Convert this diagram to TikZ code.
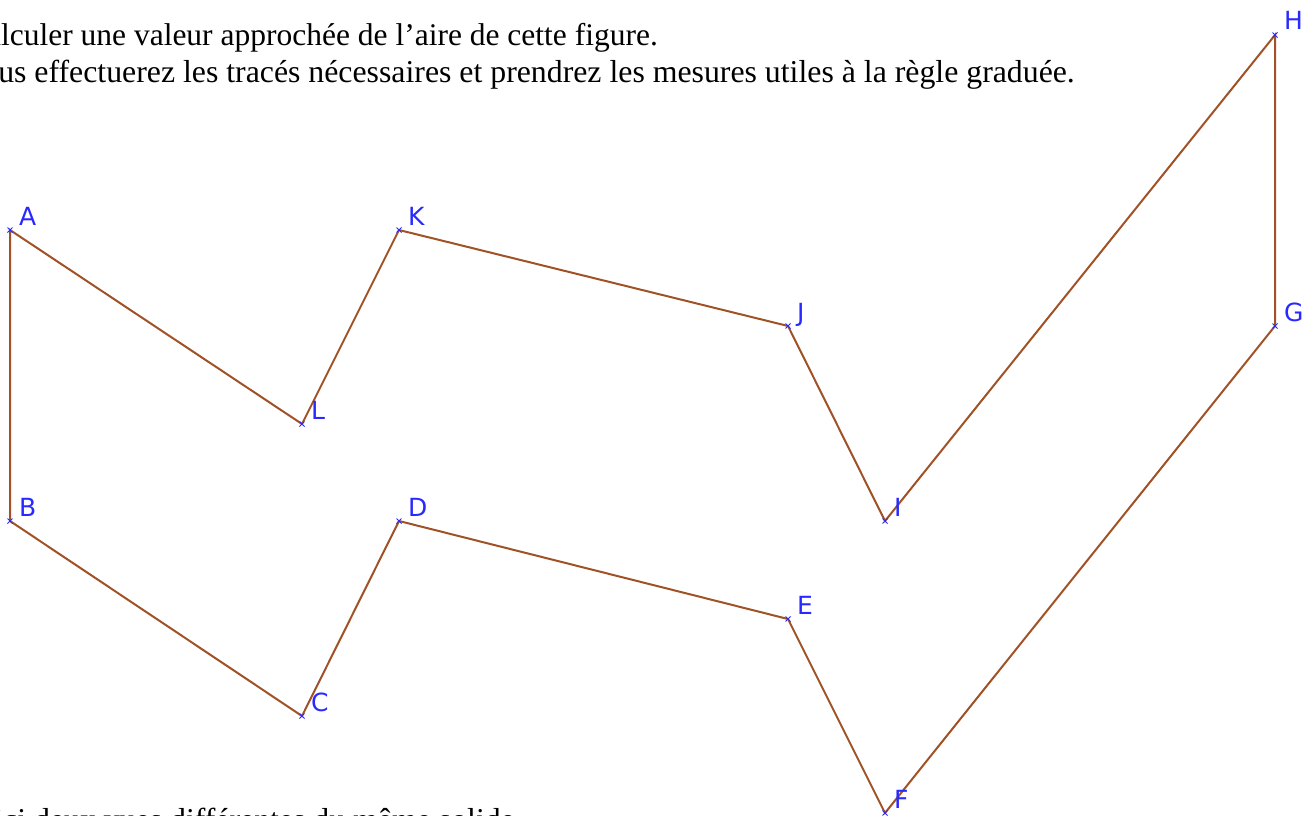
\documentclass[tikz,border=0pt]{standalone}
\usepackage{fontspec}
\setmainfont{Liberation Serif}
\newfontfamily\labfont{DejaVu Sans}
\definecolor{seg}{RGB}{160,82,38}
\definecolor{lab}{RGB}{40,40,255}
\begin{document}
\begin{tikzpicture}[x=1pt,y=-1pt,
  lbl/.style={anchor=base west,inner sep=0pt,text=lab,font=\labfont\fontsize{25}{29}\selectfont},
  txt/.style={anchor=base east,inner sep=0pt,font=\fontsize{31.8}{36}\selectfont},
  seg/.style={draw=seg,line width=2pt,line join=miter},
  mk/.style={draw=lab,line width=0.9pt}]
\useasboundingbox (0,0) rectangle (1304,816);
\node[txt,font=\fontsize{31.5}{36}\selectfont] (t1) at (658,46) {Calculer une valeur approchée de l’aire de cette figure.};
\node[txt] (t2) at (1075,82) {Vous effectuerez les tracés nécessaires et prendrez les mesures utiles à la règle graduée.};
\node[txt] (t3) at (515,830) {Voici deux vues différentes du même solide};
\coordinate (A) at (10,230);
\coordinate (B) at (10,521);
\coordinate (C) at (302,716);
\coordinate (D) at (399,521);
\coordinate (E) at (788,619);
\coordinate (F) at (885,813);
\coordinate (G) at (1275,326);
\coordinate (H) at (1275,35);
\coordinate (I) at (885,521);
\coordinate (J) at (788,326);
\coordinate (K) at (399,230);
\coordinate (L) at (302,424);
\draw[seg] (A) -- (B) -- (C) -- (D) -- (E) -- (F) -- (G) -- (H) -- (I) -- (J) -- (K) -- (L) -- cycle;
\foreach \p in {A,B,C,D,E,F,G,H,I,J,K,L}{
  \draw[mk] ([shift={(-2.5,-2.5)}]\p) -- ([shift={(2.5,2.5)}]\p);
  \draw[mk] ([shift={(-2.5,2.5)}]\p) -- ([shift={(2.5,-2.5)}]\p);
  \node[lbl] (lab\p) at ([shift={(9,-5)}]\p) {\p};
}
\end{tikzpicture}
\end{document}
